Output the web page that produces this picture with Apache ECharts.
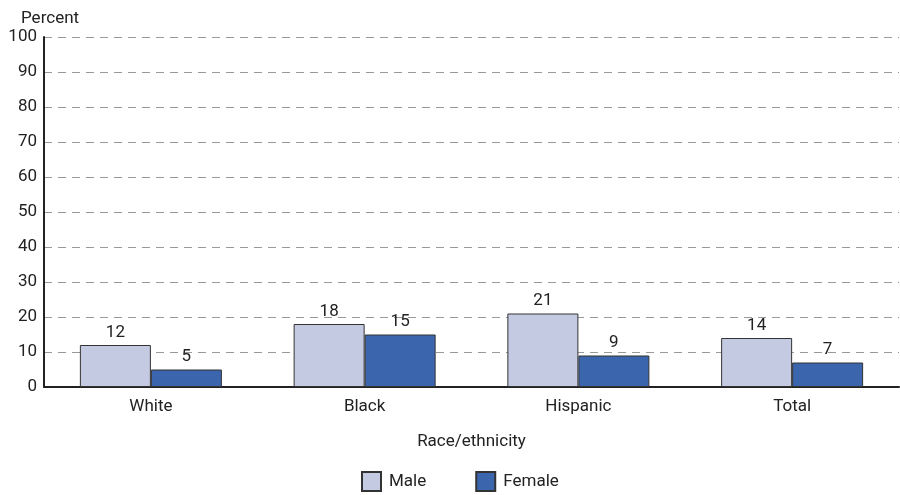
<!DOCTYPE html>
<html><head><meta charset="utf-8">
<script src="https://cdn.jsdelivr.net/npm/echarts@6/dist/echarts.min.js"></script>
<style>html,body{margin:0;padding:0;background:#fff}#c{width:900px;height:495px}</style>
</head><body><div id="c"></div>
<script>
const categories = ['White', 'Black', 'Hispanic', 'Total'];
const maleValues = [12, 18, 21, 14];
const femaleValues = [5, 15, 9, 7];
const yTicks = [0, 10, 20, 30, 40, 50, 60, 70, 80, 90, 100];

const font = 'Roboto, "Liberation Sans", sans-serif';
const chart = echarts.init(document.getElementById('c'), null, {renderer: 'canvas'});
chart.setOption({
  animation: false,
  textStyle: {fontFamily: font},
  grid: {left: 44, right: 1, top: 37, bottom: 108, containLabel: false},
  title: {text: 'Percent', left: 16, top: 5, textStyle: {fontFamily: font, fontSize: 17, fontWeight: 'normal', color: '#222'}},
  legend: {
    bottom: -2, left: 356, itemGap: 49, itemWidth: 19, itemHeight: 19,
    icon: 'rect',
    textStyle: {fontFamily: font, fontSize: 17, color: '#222', padding: [0, 0, 0, 3]},
    data: [{name: 'Male'}, {name: 'Female'}]
  },
  xAxis: {
    type: 'category', data: categories,
    name: 'Race/ethnicity', nameLocation: 'middle', nameGap: 46,
    nameTextStyle: {fontFamily: font, fontSize: 17, color: '#222'},
    axisLine: {lineStyle: {color: '#222', width: 2}},
    axisTick: {show: false},
    axisLabel: {fontFamily: font, fontSize: 17, color: '#222', margin: 11}
  },
  yAxis: {
    type: 'value', min: yTicks[0], max: yTicks[yTicks.length - 1], interval: 10,
    axisLine: {show: true, lineStyle: {color: '#222', width: 2}},
    axisTick: {show: false},
    axisLabel: {fontFamily: font, fontSize: 17, color: '#222', margin: 7},
    splitLine: {lineStyle: {color: '#999', type: [8, 6], width: 1}}
  },
  series: [
    {name: 'Male', type: 'bar', data: maleValues, barWidth: 71, barGap: '0%',
     itemStyle: {color: '#c5cae3', borderColor: '#333', borderWidth: 1},
     label: {show: true, position: 'top', distance: 4, fontFamily: font, fontSize: 17, color: '#222'}},
    {name: 'Female', type: 'bar', data: femaleValues, barWidth: 71,
     itemStyle: {color: '#3b66ad', borderColor: '#333', borderWidth: 1},
     label: {show: true, position: 'top', distance: 4, fontFamily: font, fontSize: 17, color: '#222'}}
  ]
});
</script></body></html>
